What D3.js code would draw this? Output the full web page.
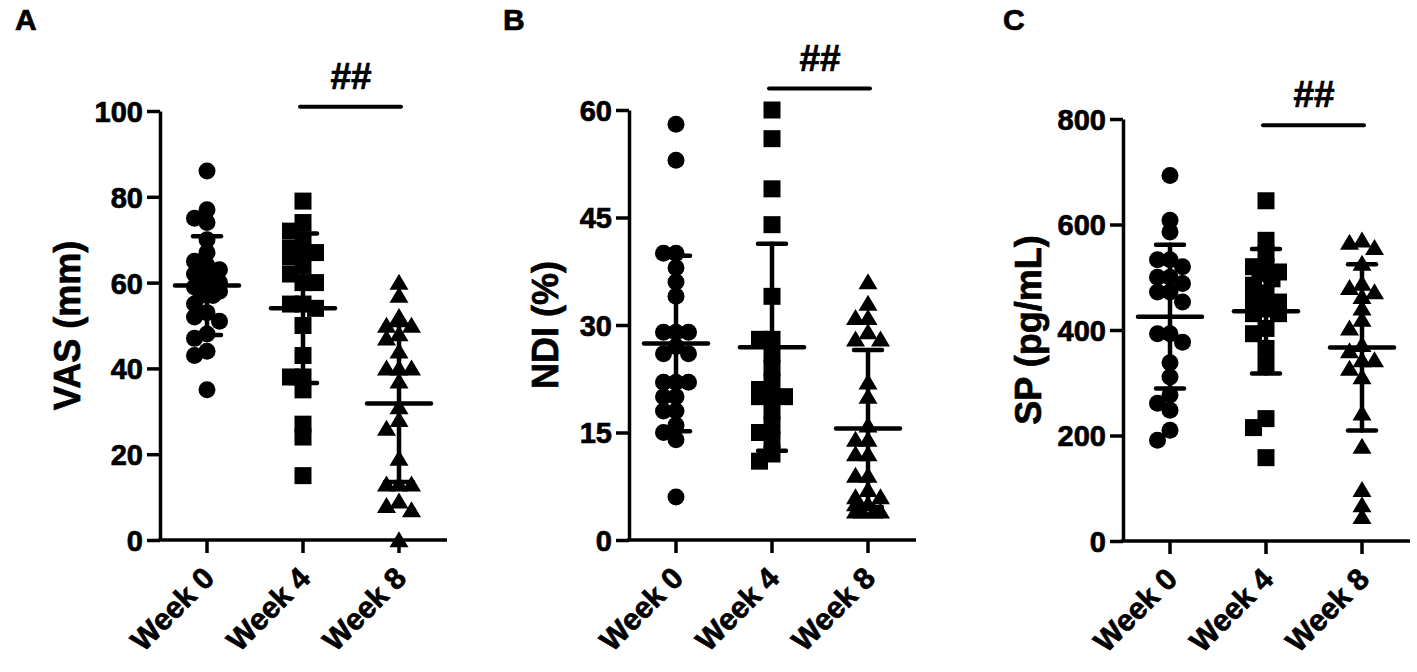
<!DOCTYPE html>
<html>
<head>
<meta charset="utf-8">
<script src="https://cdn.jsdelivr.net/npm/d3@7"></script>
<style>
  html, body { margin: 0; padding: 0; background: #fff; }
  svg { display: block; }
  text { font-family: "Liberation Sans", Arial, sans-serif; font-weight: bold; fill: #000; stroke: #000; stroke-width: 0.7px; }
</style>
</head>
<body>
<svg id="chart" width="1417" height="672"></svg>
<script>
// ---------------- data ----------------
const weeks = ["Week 0", "Week 4", "Week 8"];
const panelLetters = ["A", "B", "C"];
const yLabels = ["VAS (mm)", "NDI (%)", "SP (pg/mL)"];

const vasWeek0 = [86, 77, 75, 74, 70, 67, 65, 64, 63, 62, 61, 60, 59, 59, 58, 57, 57, 55, 53, 52, 51, 48, 47, 44, 43, 35];
const vasWeek4 = [79, 74, 72, 70, 68, 67, 67, 66, 64, 62, 60, 60, 55, 55, 54, 50, 43, 38, 38, 35, 27, 24, 15];
const vasWeek8 = [60, 57, 52, 50, 50, 48, 47, 44, 40, 40, 40, 37, 31, 28, 26, 19, 13, 13, 13, 9, 8, 7, 0];

const ndiWeek0 = [58, 53, 40, 40, 38, 36, 34, 29, 29, 29, 27, 26, 26, 22, 22, 22, 20, 20, 18, 18, 16, 15, 14, 6];
const ndiWeek4 = [60, 56, 49, 44, 34, 28, 28, 26, 24, 22, 21, 20, 20, 20, 18, 16, 15, 14, 12, 11];
const ndiWeek8 = [36, 33, 31, 31, 29, 28, 28, 22, 20, 16, 14, 14, 12, 12, 9, 9, 7, 6, 6, 5, 5, 4, 4, 4, 4];

const spWeek0 = [693, 608, 586, 533, 533, 520, 500, 500, 488, 472, 472, 453, 393, 393, 377, 338, 311, 277, 261, 248, 210, 191];
const spWeek4 = [645, 570, 545, 520, 520, 510, 507, 497, 485, 470, 460, 453, 440, 431, 431, 403, 393, 365, 333, 232, 215, 158];
const spWeek8 = [570, 566, 556, 526, 488, 480, 472, 463, 441, 420, 403, 372, 360, 343, 343, 327, 311, 242, 179, 97, 68, 46];

const yTicksVAS = [0, 20, 40, 60, 80, 100];
const yTicksNDI = [0, 15, 30, 45, 60];
const yTicksSP = [0, 200, 400, 600, 800];

const sigLabel = "##";
const sigLevel = [101, 63, 788];   // height of the Week 4 – Week 8 comparison bar (data units)

// ---------------- layout ----------------
const panels = [
  { groups: [vasWeek0, vasWeek4, vasWeek8], ticks: yTicksVAS, axisX: 160, top: 111, bottom: 540, letterX: 15, labelX: 67 },
  { groups: [ndiWeek0, ndiWeek4, ndiWeek8], ticks: yTicksNDI, axisX: 629, top: 110, bottom: 540, letterX: 503, labelX: 545 },
  { groups: [spWeek0, spWeek4, spWeek8], ticks: yTicksSP, axisX: 1123, top: 119, bottom: 541, letterX: 1003, labelX: 1028 }
];
const shapes = ["circle", "square", "triangle"];
const markerSize = 17;

const svg = d3.select("#chart");

function markerPath(shape) {
  const s = markerSize;
  if (shape === "circle") {
    const p = d3.path(); p.arc(0, 0, s / 2, 0, 2 * Math.PI); return p.toString();
  }
  if (shape === "square") {
    return `M${-s/2},${-s/2}H${s/2}V${s/2}H${-s/2}Z`;
  }
  const w = 19, h = 16;
  return `M0,${-h*0.55}L${w/2},${h*0.45}L${-w/2},${h*0.45}Z`;
}

// Prism-like scatter: points sit in a few columns around the centre and may overlap
function swarm(values, y, cx) {
  const minD = 11, cols = [0, -12.5, 12.5, -6, 6];
  const sorted = values.map(v => ({ v, py: y(v) })).sort((a, b) => a.py - b.py);
  const placed = [];
  sorted.forEach(d => {
    let best = null, bestD = -1;
    for (const off of cols) {
      const dmin = placed.length ? d3.min(placed, p => Math.hypot(p.px - (cx + off), p.py - d.py)) : Infinity;
      if (dmin >= minD) { best = off; break; }
      if (dmin > bestD) { bestD = dmin; best = off; }
    }
    d.px = cx + best;
    placed.push(d);
  });
  return placed;
}

panels.forEach((P, i) => {
  const g = svg.append("g");
  const y = d3.scaleLinear().domain([P.ticks[0], P.ticks[P.ticks.length - 1]]).range([P.bottom, P.top]);
  const x = d3.scalePoint().domain(weeks).range([P.axisX + 47, P.axisX + 239]);
  const axisEnd = P.axisX + 287;

  // y axis
  const yAxis = d3.axisLeft(y).tickValues(P.ticks).tickSize(13).tickPadding(4).tickSizeOuter(0);
  const ya = g.append("g").attr("transform", `translate(${P.axisX},0)`).call(yAxis);
  ya.select(".domain").attr("stroke", "#000").attr("stroke-width", 3.5);
  ya.selectAll(".tick line").attr("stroke", "#000").attr("stroke-width", 3.5);
  ya.selectAll(".tick text").style("font-size", "29px").style("font-family", "'Liberation Sans', Arial, sans-serif")
    .style("font-weight", "bold").attr("fill", "#000").attr("stroke", "#000").attr("stroke-width", 0.7).attr("dy", "0.36em");

  // x axis
  const xa = g.append("g").attr("transform", `translate(0,${P.bottom})`);
  xa.append("line").attr("x1", P.axisX - 1.75).attr("x2", axisEnd).attr("stroke", "#000").attr("stroke-width", 3.5);
  weeks.forEach(w => {
    xa.append("line").attr("x1", x(w)).attr("x2", x(w)).attr("y1", 0).attr("y2", 13)
      .attr("stroke", "#000").attr("stroke-width", 3.5);
    xa.append("text").text(w)
      .attr("transform", `translate(${x(w) + 9},${40}) rotate(-45)`)
      .attr("text-anchor", "end").style("font-size", "30px");
  });

  // points
  P.groups.forEach((vals, gi) => {
    const pts = swarm(vals, y, x(weeks[gi]));
    g.append("g").selectAll("path").data(pts).join("path")
      .attr("d", markerPath(shapes[gi]))
      .attr("transform", d => `translate(${d.px},${d.py})`)
      .attr("fill", "#000");
  });

  // mean ± SD
  P.groups.forEach((vals, gi) => {
    const cx = x(weeks[gi]);
    const m = d3.mean(vals), sd = d3.deviation(vals);
    const eb = g.append("g").attr("stroke", "#000").attr("stroke-width", 4.5).attr("stroke-linecap", "round");
    eb.append("line").attr("x1", cx).attr("x2", cx).attr("y1", y(m - sd)).attr("y2", y(m + sd));
    [m - sd, m + sd].forEach(v => eb.append("line").attr("x1", cx - 14).attr("x2", cx + 14).attr("y1", y(v)).attr("y2", y(v)));
    eb.append("line").attr("x1", cx - 32).attr("x2", cx + 32).attr("y1", y(m)).attr("y2", y(m));
  });

  // significance bar
  const sy = y(sigLevel[i]);
  g.append("line").attr("x1", x(weeks[1]) - 3).attr("x2", x(weeks[2]) + 2).attr("y1", sy).attr("y2", sy)
    .attr("stroke", "#000").attr("stroke-width", 4).attr("stroke-linecap", "round");
  g.append("text").text(sigLabel).attr("x", (x(weeks[1]) + x(weeks[2])) / 2).attr("y", sy - 18)
    .attr("text-anchor", "middle").style("font-size", "37px");

  // y label
  g.append("text").text(yLabels[i])
    .attr("transform", `translate(${P.labelX},${(P.top + P.bottom) / 2}) rotate(-90)`)
    .attr("text-anchor", "middle").attr("dy", "0.36em").style("font-size", "36px");

  // panel letter
  svg.append("text").text(panelLetters[i]).attr("x", P.letterX).attr("y", 30).style("font-size", "30px");
});
</script>
</body>
</html>
